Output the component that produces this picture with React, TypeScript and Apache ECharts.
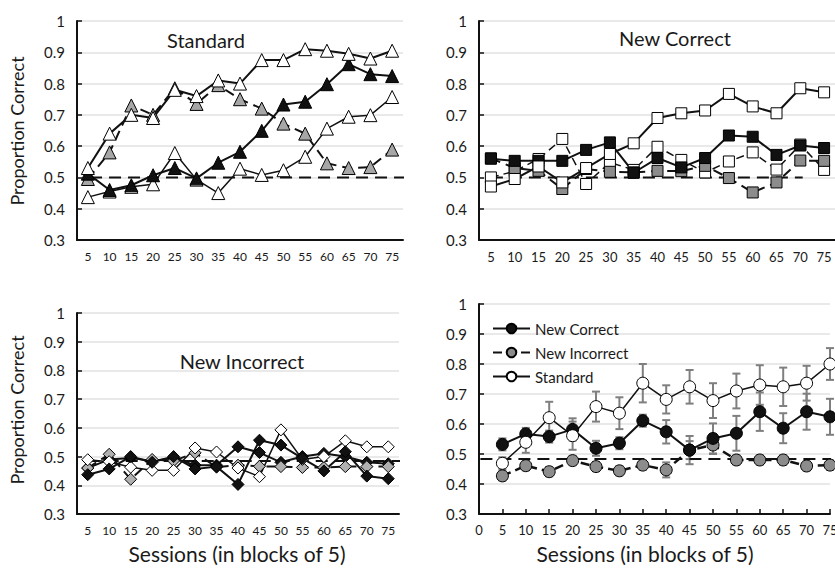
import React, { useEffect, useRef } from 'react';
import * as echarts from 'echarts';

// ---------- data ----------
const sessionLabels = ['5', '10', '15', '20', '25', '30', '35', '40', '45', '50', '55', '60', '65', '70', '75'];
const sessionValues = [5, 10, 15, 20, 25, 30, 35, 40, 45, 50, 55, 60, 65, 70, 75];

// Panel "Standard" (triangles)
const stdWhiteA = [0.53, 0.64, 0.70, 0.69, 0.78, 0.76, 0.81, 0.80, 0.875, 0.875, 0.91, 0.905, 0.895, 0.88, 0.905];
const stdGray = [0.495, 0.58, 0.73, 0.70, 0.785, 0.735, 0.795, 0.75, 0.72, 0.672, 0.64, 0.545, 0.53, 0.533, 0.589];
const stdBlack = [0.512, 0.46, 0.475, 0.507, 0.53, 0.497, 0.547, 0.582, 0.649, 0.733, 0.742, 0.798, 0.862, 0.83, 0.824];
const stdWhiteB = [0.437, 0.455, 0.47, 0.478, 0.578, 0.493, 0.45, 0.528, 0.508, 0.523, 0.566, 0.656, 0.694, 0.699, 0.757];

// Panel "New Correct" (squares)
const ncWhiteA = [0.471, 0.495, 0.535, 0.484, 0.53, 0.575, 0.609, 0.69, 0.705, 0.714, 0.767, 0.727, 0.705, 0.785, 0.772];
const ncBlack = [0.56, 0.553, 0.553, 0.553, 0.588, 0.612, 0.515, 0.562, 0.532, 0.562, 0.634, 0.63, 0.572, 0.602, 0.594];
const ncGray = [0.561, 0.53, 0.521, 0.463, 0.527, 0.518, 0.516, 0.521, 0.52, 0.537, 0.498, 0.452, 0.484, 0.554, 0.553];
const ncWhiteB = [0.50, 0.52, 0.559, 0.623, 0.479, 0.548, 0.524, 0.598, 0.556, 0.516, 0.551, 0.58, 0.525, 0.605, 0.524];

// Panel "New Incorrect" (diamonds)
const niBlackA = [0.437, 0.457, 0.50, 0.48, 0.50, 0.457, 0.465, 0.403, 0.557, 0.54, 0.494, 0.45, 0.517, 0.432, 0.423];
const niBlackB = [0.46, 0.49, 0.495, 0.485, 0.495, 0.47, 0.47, 0.534, 0.514, 0.48, 0.50, 0.511, 0.50, 0.48, 0.475];
const niGray = [0.46, 0.508, 0.421, 0.49, 0.485, 0.513, 0.463, 0.47, 0.466, 0.465, 0.462, 0.462, 0.465, 0.465, 0.465];
const niWhite = [0.489, 0.482, 0.463, 0.452, 0.452, 0.53, 0.516, 0.46, 0.43, 0.593, 0.49, 0.50, 0.555, 0.534, 0.534];

// Panel 4: means and error half-widths
const meanNewCorrect = [0.532, 0.567, 0.558, 0.582, 0.519, 0.536, 0.611, 0.574, 0.513, 0.552, 0.569, 0.641, 0.586, 0.641, 0.624];
const meanNewIncorrect = [0.427, 0.461, 0.441, 0.478, 0.458, 0.444, 0.463, 0.447, 0.513, 0.53, 0.48, 0.48, 0.48, 0.46, 0.463];
const meanStandard = [0.469, 0.539, 0.621, 0.561, 0.658, 0.636, 0.736, 0.682, 0.724, 0.678, 0.71, 0.73, 0.724, 0.736, 0.80];
const errNewCorrect = [0.02, 0.02, 0.02, 0.037, 0.025, 0.02, 0.02, 0.039, 0.047, 0.05, 0.058, 0.064, 0.05, 0.06, 0.06];
const errNewIncorrect = [0.015, 0.015, 0.015, 0.015, 0.015, 0.015, 0.015, 0.025, 0.03, 0.03, 0.015, 0.015, 0.015, 0.015, 0.015];
const errStandard = [0.02, 0.035, 0.053, 0.047, 0.05, 0.053, 0.064, 0.047, 0.056, 0.058, 0.058, 0.066, 0.064, 0.058, 0.053];

// chance reference lines: level, start, end (start/end in category index for panels 1-3, session for panel 4)
const refLevel = [0.5, 0.5, 0.485, 0.483];
const refStart = [0.1, 0, 0, 0.3];
const refEnd = [15.25, 13.1, 14.87, 76.5];

const FONT = 'Lato, "Open Sans", sans-serif';
const INK = '#1a1a1a';

export default function App() {
  const ref = useRef<HTMLDivElement>(null);
  useEffect(() => {
    const chart = echarts.init(ref.current!, null, { renderer: 'svg' });

    const grids = [
      { left: 77, top: 21, width: 326, height: 219 },
      { left: 479, top: 21, width: 357, height: 219 },
      { left: 77, top: 313, width: 322, height: 201 },
      { left: 479, top: 304, width: 351, height: 210 },
    ].map((g) => ({ ...g, containLabel: false, outerBoundsMode: 'none' }));

    const axisLine = { show: true, onZero: false, lineStyle: { color: '#111', width: 2 } };

    const yAxes = [0, 1, 2, 3].map((i) => ({
      gridIndex: i,
      type: 'value',
      min: 0.3,
      max: 1,
      interval: 0.1,
      axisLine,
      axisTick: { show: true, inside: true, length: 5, lineStyle: { color: '#111', width: 1.5 } },
      axisLabel: {
        fontSize: 15,
        fontFamily: FONT,
        color: INK,
        margin: 12,
        formatter: (v: number) => (Math.abs(v - 1) < 1e-9 ? '1' : v.toFixed(1)),
      },
      splitLine: { show: true, lineStyle: { color: '#e2e2e2', width: 1.5 } },
    }));

    const catAxis = (grid: number, fs: number) => ({
      gridIndex: grid,
      type: 'category',
      data: sessionLabels,
      boundaryGap: true,
      axisLine,
      axisTick: { show: false },
      axisLabel: { interval: 0, fontSize: fs, fontFamily: FONT, color: INK, margin: 10 },
      splitLine: { show: false },
    });
    const hiddenAxis = (grid: number) => ({
      gridIndex: grid,
      type: 'value',
      min: -0.5,
      max: 14.5,
      show: false,
      splitLine: { show: false },
    });

    const xAxes = [
      catAxis(0, 12),
      hiddenAxis(0),
      catAxis(1, 13),
      hiddenAxis(1),
      catAxis(2, 12),
      hiddenAxis(2),
      {
        gridIndex: 3,
        type: 'value',
        min: 0,
        max: 75,
        interval: 5,
        axisLine,
        axisTick: { show: true, inside: true, length: 5, lineStyle: { color: '#111', width: 1.5 } },
        axisLabel: { fontSize: 13, fontFamily: FONT, color: INK, margin: 9, showMaxLabel: true, showMinLabel: true },
        splitLine: { show: false },
      },
    ];

    const mk = (
      name: string,
      data: number[],
      grid: number,
      symbol: string,
      size: number,
      fill: string,
      lineType: any,
      lineWidth: number,
      z = 3
    ) => ({
      name,
      type: 'line',
      xAxisIndex: grid * 2,
      yAxisIndex: grid,
      data,
      symbol,
      symbolSize: size,
      showSymbol: true,
      showAllSymbol: true,
      silent: true,
      z,
      itemStyle: { color: fill, borderColor: '#000', borderWidth: 1, opacity: 1 },
      lineStyle: { color: '#111', width: lineWidth, type: lineType },
      emphasis: { disabled: true },
    });

    const refSeries = (i: number) => ({
      name: 'ref' + i,
      type: 'line',
      xAxisIndex: i < 3 ? i * 2 + 1 : 6,
      yAxisIndex: i,
      data: [
        [refStart[i], refLevel[i]],
        [refEnd[i], refLevel[i]],
      ],
      symbol: 'none',
      clip: false,
      silent: true,
      z: 1,
      lineStyle: { color: '#111', width: 2, type: [12, 7] },
    });

    const errSeries = (name: string, means: number[], errs: number[]) => ({
      name,
      type: 'custom',
      xAxisIndex: 6,
      yAxisIndex: 3,
      silent: true,
      z: 1,
      data: means.map((m, i) => [sessionValues[i], m - errs[i], m + errs[i]]),
      encode: { x: 0, y: [1, 2] },
      renderItem: (params: any, api: any) => {
        const x = api.value(0);
        const lo = api.coord([x, api.value(1)]);
        const hi = api.coord([x, api.value(2)]);
        const cw = 4;
        const st = { stroke: '#7f7f7f', lineWidth: 2 };
        return {
          type: 'group',
          children: [
            { type: 'line', shape: { x1: lo[0], y1: lo[1], x2: hi[0], y2: hi[1] }, style: st },
            { type: 'line', shape: { x1: hi[0] - cw, y1: hi[1], x2: hi[0] + cw, y2: hi[1] }, style: st },
            { type: 'line', shape: { x1: lo[0] - cw, y1: lo[1], x2: lo[0] + cw, y2: lo[1] }, style: st },
          ],
        };
      },
    });

    const meanSeries = (name: string, means: number[], fill: string, lineType: any, lineWidth: number) => ({
      name,
      type: 'line',
      xAxisIndex: 6,
      yAxisIndex: 3,
      data: means.map((m, i) => [sessionValues[i], m]),
      symbol: 'circle',
      symbolSize: 12,
      showSymbol: true,
      showAllSymbol: true,
      silent: true,
      z: 3,
      itemStyle: { color: fill, borderColor: '#000', borderWidth: 1, opacity: 1 },
      lineStyle: { color: '#111', width: lineWidth, type: lineType },
      emphasis: { disabled: true },
    });

    const series: any[] = [
      refSeries(0),
      refSeries(1),
      refSeries(2),
      refSeries(3),
      // panel 1
      mk('std-white-b', stdWhiteB, 0, 'triangle', 13, '#ffffff', 'solid', 1.5),
      mk('std-gray', stdGray, 0, 'triangle', 13, '#a6a6a6', [10, 6], 2),
      mk('std-black', stdBlack, 0, 'triangle', 13, '#111111', 'solid', 2),
      mk('std-white-a', stdWhiteA, 0, 'triangle', 13, '#ffffff', 'solid', 2),
      // panel 2
      mk('nc-white-b', ncWhiteB, 1, 'rect', 11, '#ffffff', [8, 5], 1.5),
      mk('nc-gray', ncGray, 1, 'rect', 11, '#8c8c8c', [10, 6], 2),
      mk('nc-black', ncBlack, 1, 'rect', 11, '#111111', 'solid', 2),
      mk('nc-white-a', ncWhiteA, 1, 'rect', 11, '#ffffff', 'solid', 2),
      // panel 3
      mk('ni-black-b', niBlackB, 2, 'diamond', 12, '#111111', 'solid', 2),
      mk('ni-gray', niGray, 2, 'diamond', 12, '#b0b0b0', [10, 6], 2),
      mk('ni-white', niWhite, 2, 'diamond', 12, '#ffffff', 'solid', 1.5),
      mk('ni-black-a', niBlackA, 2, 'diamond', 12, '#111111', 'solid', 2),
      // panel 4
      errSeries('err-std', meanStandard, errStandard),
      errSeries('err-nc', meanNewCorrect, errNewCorrect),
      errSeries('err-ni', meanNewIncorrect, errNewIncorrect),
      meanSeries('New Incorrect', meanNewIncorrect, '#8c8c8c', [9, 5], 2.5),
      meanSeries('New Correct', meanNewCorrect, '#111111', 'solid', 2),
      meanSeries('Standard', meanStandard, '#ffffff', 'solid', 1.5),
    ];

    const txt = (text: string, x: number, y: number, size: number, rotate = 0) => ({
      type: 'text',
      x,
      y,
      rotation: rotate,
      silent: true,
      style: { text, fontSize: size, fontFamily: FONT, fill: INK, align: 'center', verticalAlign: 'middle' },
    });

    const option: any = {
      animation: false,
      backgroundColor: '#ffffff',
      textStyle: { fontFamily: FONT },
      grid: grids,
      xAxis: xAxes,
      yAxis: yAxes,
      legend: {
        data: ['New Correct', 'New Incorrect', 'Standard'],
        orient: 'vertical',
        left: 487,
        top: 316,
        itemWidth: 37,
        itemHeight: 12,
        itemGap: 9,
        selectedMode: false,
        textStyle: { fontSize: 15, fontFamily: FONT, color: INK },
      },
      series,
      graphic: [
        txt('Standard', 206, 40, 20),
        txt('New Correct', 675, 38, 20),
        txt('New Incorrect', 242, 361, 20),
        txt('Proportion Correct', 17, 131, 18, Math.PI / 2),
        txt('Proportion Correct', 17, 410, 18, Math.PI / 2),
        txt('Sessions (in blocks of 5)', 237, 553, 21),
        txt('Sessions (in blocks of 5)', 645, 553, 21),
      ],
    };

    chart.setOption(option);
    return () => chart.dispose();
  }, []);
  return <div ref={ref} style={{ position: 'absolute', left: 0, top: 0, width: 835, height: 568 }} />;
}
